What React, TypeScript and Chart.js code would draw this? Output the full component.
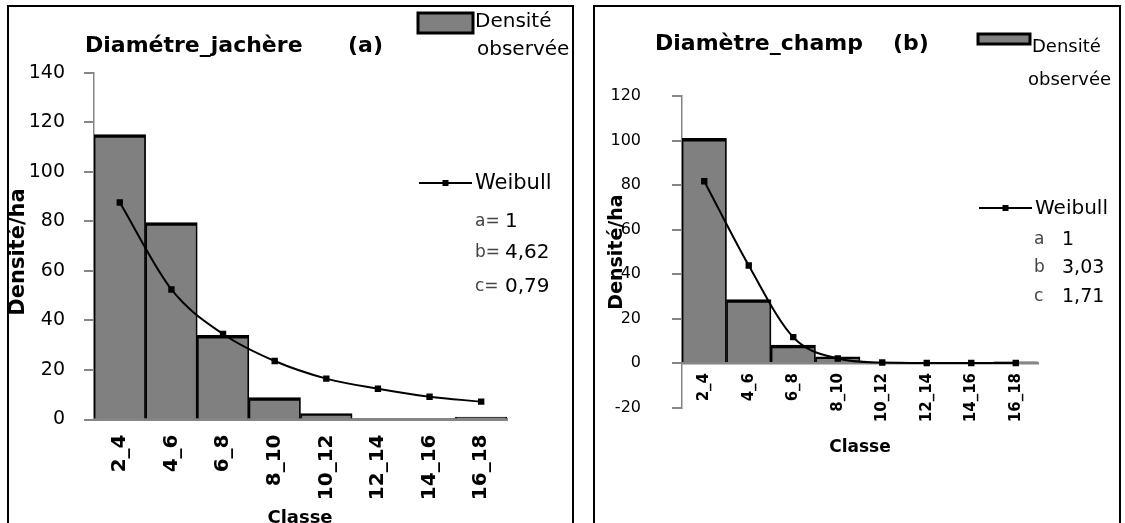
import React, { useEffect, useRef } from "react";
import { Chart, registerables } from "chart.js";

Chart.register(...registerables);

// ---------- data ----------
const classes = ["2_4", "4_6", "6_8", "8_10", "10_12", "12_14", "14_16", "16_18"];
const jachereObserved = [115, 79.5, 34, 8.8, 2.4, 0, 0, 1];
const jachereWeibull = [87.6, 52.5, 34.5, 23.6, 16.5, 12.4, 9.2, 7.2];
const champObserved = [101, 28.5, 8, 2.8, 0.3, 0, 0, 0.5];
const champWeibull = [81.7, 43.8, 11.6, 2, 0.2, 0, 0, 0];
const jachereParams = [["a=", "1"], ["b=", "4,62"], ["c=", "0,79"]];
const champParams = [["a", "1"], ["b", "3,03"], ["c", "1,71"]];
const jachereYTicks = { min: 0, max: 140, step: 20 };
const champYTicks = { min: -20, max: 120, step: 20 };

const FONT = "'DejaVu Sans', sans-serif";
const GRAY_FILL = "#808080";
const AXIS_GRAY = "#868686";

type PanelCfg = {
  key: string;
  observed: number[];
  weibull: number[];
  params: string[][];
  yRange: { min: number; max: number; step: number };
  title: string;
  tag: string;
  canvas: { left: number; top: number; width: number; height: number };
  padding: { top: number; right: number; bottom: number; left: number };
  yWidth: number;
  xHeight?: number;
  xAtZero: boolean;
  yTickFont: number;
  yTickPad: number;
  xTickFont: number;
  xTickPad: number;
  xBorderWidth: number;
  deco: {
    titleX: number; titleY: number; tagX: number; titleSize: number;
    boxX: number; boxY: number; boxW: number; boxH: number;
    densX: number; densY: number; obsX: number; obsY: number; legSize: number;
    lineX1: number; lineX2: number; lineY: number; weibX: number; weibSize: number;
    paramX: number; paramValX: number; paramYs: number[]; paramLabelSize: number; paramSize: number;
    yTitleX: number; yTitleY: number; yTitleSize: number;
    xTitleX: number; xTitleY: number; xTitleSize: number;
  };
};

const panels: PanelCfg[] = [
  {
    key: "a",
    observed: jachereObserved,
    weibull: jachereWeibull,
    params: jachereParams,
    yRange: jachereYTicks,
    title: "Diamétre_jachère",
    tag: "(a)",
    canvas: { left: 9, top: 8, width: 562, height: 515 },
    padding: { top: 64.7, right: 64, bottom: 0, left: 0 },
    yWidth: 85,
    xHeight: 103.5,
    xAtZero: false,
    yTickFont: 19,
    yTickPad: 19,
    xTickFont: 20,
    xTickPad: 15,
    xBorderWidth: 3,
    deco: {
      titleX: 76, titleY: 44, tagX: 339, titleSize: 22,
      boxX: 409, boxY: 5, boxW: 55, boxH: 20,
      densX: 466, densY: 14, obsX: 468, obsY: 42, legSize: 20,
      lineX1: 410, lineX2: 463, lineY: 175, weibX: 466, weibSize: 21,
      paramX: 466, paramValX: 496, paramYs: [214, 245, 279], paramLabelSize: 17, paramSize: 20,
      yTitleX: 10, yTitleY: 244, yTitleSize: 21,
      xTitleX: 291, xTitleY: 510, xTitleSize: 18,
    },
  },
  {
    key: "b",
    observed: champObserved,
    weibull: champWeibull,
    params: champParams,
    yRange: champYTicks,
    title: "Diamètre_champ",
    tag: "(b)",
    canvas: { left: 595, top: 8, width: 524, height: 515 },
    padding: { top: 88, right: 81, bottom: 115.5, left: 0 },
    yWidth: 87,
    xAtZero: true,
    yTickFont: 16,
    yTickPad: 31,
    xTickFont: 15,
    xTickPad: 10,
    xBorderWidth: 2.5,
    deco: {
      titleX: 60, titleY: 42, tagX: 298, titleSize: 22,
      boxX: 383, boxY: 26, boxW: 52, boxH: 10,
      densX: 437, densY: 39, obsX: 433, obsY: 72, legSize: 18,
      lineX1: 384, lineX2: 437, lineY: 200, weibX: 440, weibSize: 20,
      paramX: 439, paramValX: 467, paramYs: [232, 260, 289], paramLabelSize: 17, paramSize: 19,
      yTitleX: 22, yTitleY: 244, yTitleSize: 19,
      xTitleX: 265, xTitleY: 440, xTitleSize: 17,
    },
  },
];

function decoPlugin(cfg: PanelCfg) {
  return {
    id: "deco_" + cfg.key,
    afterDraw(chart: any) {
      const ctx: CanvasRenderingContext2D = chart.ctx;
      const d = cfg.deco;
      ctx.save();
      ctx.fillStyle = "#000";
      // title
      ctx.font = `bold ${d.titleSize}px ${FONT}`;
      ctx.textAlign = "left";
      ctx.textBaseline = "alphabetic";
      ctx.fillText(cfg.title, d.titleX, d.titleY);
      ctx.fillText(cfg.tag, d.tagX, d.titleY);
      // observed legend
      ctx.fillStyle = GRAY_FILL;
      ctx.fillRect(d.boxX, d.boxY, d.boxW, d.boxH);
      ctx.strokeStyle = "#000";
      ctx.lineWidth = 3;
      ctx.strokeRect(d.boxX, d.boxY, d.boxW, d.boxH);
      ctx.fillStyle = "#000";
      ctx.font = `${d.legSize}px ${FONT}`;
      ctx.textBaseline = "middle";
      ctx.fillText("Densité", d.densX, d.densY);
      ctx.fillText("observée", d.obsX, d.obsY);
      // weibull legend
      ctx.beginPath();
      ctx.lineWidth = 2;
      ctx.moveTo(d.lineX1, d.lineY);
      ctx.lineTo(d.lineX2, d.lineY);
      ctx.stroke();
      const mx = (d.lineX1 + d.lineX2) / 2;
      ctx.fillRect(mx - 3, d.lineY - 3, 6, 6);
      ctx.font = `${d.weibSize}px ${FONT}`;
      ctx.fillText("Weibull", d.weibX, d.lineY + 1);
      cfg.params.forEach((p, i) => {
        ctx.font = `${d.paramLabelSize}px ${FONT}`;
        ctx.fillStyle = "#444";
        ctx.fillText(p[0], d.paramX, d.paramYs[i]);
        ctx.font = `${d.paramSize}px ${FONT}`;
        ctx.fillStyle = "#000";
        ctx.fillText(p[1], d.paramValX, d.paramYs[i]);
      });
      // axis titles
      ctx.font = `bold ${d.xTitleSize}px ${FONT}`;
      ctx.textAlign = "center";
      ctx.fillText("Classe", d.xTitleX, d.xTitleY);
      ctx.save();
      ctx.translate(d.yTitleX, d.yTitleY);
      ctx.rotate(-Math.PI / 2);
      ctx.font = `bold ${d.yTitleSize}px ${FONT}`;
      ctx.fillText("Densité/ha", 0, 0);
      ctx.restore();
      ctx.restore();
    },
  };
}

function Panel({ cfg }: { cfg: PanelCfg }) {
  const ref = useRef<HTMLCanvasElement | null>(null);
  useEffect(() => {
    if (!ref.current) return;
    const xScale: any = {
      type: "category",
      offset: true,
      position: cfg.xAtZero ? { y: 0 } : "bottom",
      grid: { display: false, drawTicks: false },
      border: { display: true, color: AXIS_GRAY, width: cfg.xBorderWidth },
      ticks: {
        color: "#000",
        font: { family: FONT, size: cfg.xTickFont, weight: "bold" },
        minRotation: 90,
        maxRotation: 90,
        autoSkip: false,
        padding: cfg.xTickPad,
      },
    };
    if (cfg.xHeight !== undefined) {
      const h = cfg.xHeight;
      xScale.afterFit = (s: any) => {
        s.height = h;
      };
    }
    const chart = new Chart(ref.current, {
      type: "bar",
      data: {
        labels: classes,
        datasets: [
          {
            type: "line",
            label: "Weibull",
            data: cfg.weibull,
            borderColor: "#000",
            backgroundColor: "#000",
            borderWidth: 2,
            pointStyle: "rect",
            pointRadius: 4.5,
            pointBackgroundColor: "#000",
            pointBorderWidth: 0,
            tension: 0.4,
            cubicInterpolationMode: "monotone",
            order: 0,
          } as any,
          {
            type: "bar",
            label: "Densité observée",
            data: cfg.observed,
            backgroundColor: GRAY_FILL,
            borderColor: "#000",
            borderWidth: { top: 3.5, left: 1.75, right: 1.75, bottom: 0 },
            borderSkipped: false,
            barPercentage: 1,
            categoryPercentage: 1,
            order: 1,
          } as any,
        ],
      },
      options: {
        animation: false,
        responsive: true,
        maintainAspectRatio: false,
        devicePixelRatio: 1,
        layout: { padding: cfg.padding },
        plugins: {
          legend: { display: false },
          title: { display: false },
          tooltip: { enabled: false },
        },
        scales: {
          x: xScale,
          y: {
            min: cfg.yRange.min,
            max: cfg.yRange.max,
            ticks: {
              stepSize: cfg.yRange.step,
              color: "#000",
              font: { family: FONT, size: cfg.yTickFont },
              padding: cfg.yTickPad,
            },
            grid: {
              drawOnChartArea: false,
              drawTicks: true,
              tickLength: 10,
              color: AXIS_GRAY,
              lineWidth: 2,
            },
            border: { display: true, color: AXIS_GRAY, width: 1.5 },
            afterFit: (s: any) => {
              s.width = cfg.yWidth;
            },
          } as any,
        },
      },
      plugins: [decoPlugin(cfg)],
    } as any);
    return () => chart.destroy();
  }, [cfg]);
  const c = cfg.canvas;
  return (
    <div
      style={{
        position: "absolute",
        left: c.left,
        top: c.top,
        width: c.width,
        height: c.height,
      }}
    >
      <canvas ref={ref} />
    </div>
  );
}

export default function App() {
  return (
    <div
      style={{
        position: "absolute",
        left: 0,
        top: 0,
        width: 1125,
        height: 523,
        overflow: "hidden",
        background: "#fff",
      }}
    >
      <div
        style={{
          position: "absolute",
          left: 7,
          top: 5,
          width: 563,
          height: 600,
          border: "2.5px solid #000",
        }}
      />
      <div
        style={{
          position: "absolute",
          left: 593,
          top: 5,
          width: 524,
          height: 600,
          border: "2.5px solid #000",
        }}
      />
      {panels.map((p) => (
        <Panel key={p.key} cfg={p} />
      ))}
    </div>
  );
}
